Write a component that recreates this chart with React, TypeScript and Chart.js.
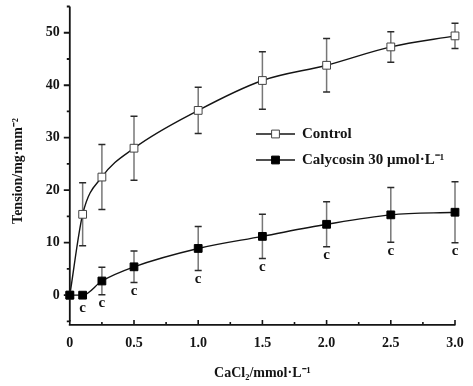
import React, { useEffect, useRef } from 'react';
import { Chart, registerables } from 'chart.js';

Chart.register(...registerables);

// ---- data ----
const concentrations = [0, 0.1, 0.25, 0.5, 1.0, 1.5, 2.0, 2.5, 3.0];
const controlMean = [0, 15.4, 22.5, 28.0, 35.2, 40.9, 43.8, 47.3, 49.4];
const controlSD = [0, 6.0, 6.2, 6.1, 4.4, 5.5, 5.1, 2.9, 2.4];
const calycosinMean = [0, 0, 2.7, 5.4, 8.9, 11.2, 13.5, 15.3, 15.8];
const calycosinSD = [0, 0, 2.6, 3.0, 4.2, 4.2, 4.3, 5.2, 5.8];
const calycosinMarks = ['', 'c', 'c', 'c', 'c', 'c', 'c', 'c', 'c'];

const seriesLabels = ['Control', 'Calycosin 30 μmol·L⁻¹'];
const xMajorTicks = [0, 0.5, 1.0, 1.5, 2.0, 2.5, 3.0];
const xMinorTicks = [0.25, 0.75, 1.25, 1.75, 2.25, 2.75];
const yMajorTicks = [0, 10, 20, 30, 40, 50];
const yMinorTicks = [-5, 5, 15, 25, 35, 45, 55];
const xTitle = 'CaCl₂/mmol·L⁻¹';
const yTitle = 'Tension/mg·mm⁻²    ';

const FONT = '"Liberation Serif", "Times New Roman", serif';
const INK = '#141414';

const decorPlugin = {
  id: 'decor',
  beforeDatasetsDraw(chart: any) {
    const ctx = chart.ctx;
    const xs = chart.scales.x;
    const ys = chart.scales.y;
    ctx.save();
    // y axis
    const ax = xs.getPixelForValue(xs.min);
    const yTop = ys.getPixelForValue(ys.max);
    const yBot = ys.getPixelForValue(ys.min);
    ctx.strokeStyle = INK;
    ctx.lineWidth = 1.8;
    ctx.beginPath();
    ctx.moveTo(ax, yTop);
    ctx.lineTo(ax, yBot);
    yMajorTicks.forEach((v) => {
      const p = ys.getPixelForValue(v);
      ctx.moveTo(ax - 6, p);
      ctx.lineTo(ax, p);
    });
    yMinorTicks.forEach((v) => {
      const p = ys.getPixelForValue(v);
      ctx.moveTo(ax - 3, p);
      ctx.lineTo(ax, p);
    });
    ctx.stroke();
    // x axis (offset below the y axis)
    const axY = yBot + 3.5;
    ctx.lineWidth = 1.6;
    ctx.beginPath();
    ctx.moveTo(xs.getPixelForValue(xs.min) - 1, axY);
    ctx.lineTo(xs.getPixelForValue(xs.max) + 0.5, axY);
    xMajorTicks.forEach((v) => {
      const p = xs.getPixelForValue(v);
      ctx.moveTo(p, axY);
      ctx.lineTo(p, axY - 5);
    });
    xMinorTicks.forEach((v) => {
      const p = xs.getPixelForValue(v);
      ctx.moveTo(p, axY);
      ctx.lineTo(p, axY - 3);
    });
    ctx.stroke();

    // error bars
    chart.data.datasets.forEach((ds: any) => {
      const errs: number[] = ds.errors || [];
      ds.data.forEach((pt: any, i: number) => {
        const e = errs[i];
        if (!e) return;
        const px = xs.getPixelForValue(pt.x);
        const pTop = ys.getPixelForValue(pt.y + e);
        const pBot = ys.getPixelForValue(pt.y - e);
        ctx.strokeStyle = '#777';
        ctx.lineWidth = 1.5;
        ctx.beginPath();
        ctx.moveTo(px, pTop);
        ctx.lineTo(px, pBot);
        ctx.stroke();
        ctx.strokeStyle = '#2a2a2a';
        ctx.beginPath();
        ctx.moveTo(px - 3.5, pTop);
        ctx.lineTo(px + 3.5, pTop);
        ctx.moveTo(px - 3.5, pBot);
        ctx.lineTo(px + 3.5, pBot);
        ctx.stroke();
      });
    });
    ctx.restore();
  },
  afterDatasetsDraw(chart: any) {
    const ctx = chart.ctx;
    const xs = chart.scales.x;
    const ys = chart.scales.y;
    ctx.save();
    // significance marks
    ctx.fillStyle = INK;
    ctx.font = `bold 15px ${FONT}`;
    ctx.textAlign = 'center';
    ctx.textBaseline = 'middle';
    chart.data.datasets.forEach((ds: any) => {
      const marks: string[] = ds.marks || [];
      const errs: number[] = ds.errors || [];
      ds.data.forEach((pt: any, i: number) => {
        if (!marks[i]) return;
        const px = xs.getPixelForValue(pt.x);
        const below = Math.max(ys.getPixelForValue(pt.y - (errs[i] || 0)), ys.getPixelForValue(pt.y) + 4);
        ctx.fillText(marks[i], px, below + 8.5);
      });
    });

    // legend
    const lx = 256;
    let ly = 134;
    chart.data.datasets.forEach((ds: any) => {
      ctx.strokeStyle = INK;
      ctx.lineWidth = 1.4;
      ctx.beginPath();
      ctx.moveTo(lx, ly);
      ctx.lineTo(lx + 39, ly);
      ctx.stroke();
      ctx.fillStyle = ds.pointBackgroundColor;
      ctx.strokeStyle = ds.pointBorderColor;
      ctx.lineWidth = 1;
      ctx.beginPath();
      ctx.rect(lx + 19.5 - 3.9, ly - 3.9, 7.8, 7.8);
      ctx.fill();
      ctx.stroke();
      ctx.fillStyle = INK;
      ctx.font = `bold 15px ${FONT}`;
      ctx.textAlign = 'left';
      ctx.textBaseline = 'middle';
      ctx.fillText(ds.label, lx + 46, ly + 0.5);
      ly += 26;
    });
    ctx.restore();
  },
};

export default function App() {
  const ref = useRef<HTMLCanvasElement | null>(null);
  useEffect(() => {
    if (!ref.current) return;
    const mk = (ys: number[]) => concentrations.map((x, i) => ({ x, y: ys[i] }));
    const chart = new Chart(ref.current, {
      type: 'scatter',
      data: {
        datasets: [
          {
            label: seriesLabels[0],
            data: mk(controlMean),
            errors: controlSD,
            showLine: true,
            borderColor: INK,
            borderWidth: 1.4,
            cubicInterpolationMode: 'monotone',
            pointStyle: 'rect',
            pointRadius: 5.5,
            pointBackgroundColor: '#ffffff',
            pointBorderColor: '#444',
            pointBorderWidth: 1,
            clip: false,
            order: 1,
          } as any,
          {
            label: seriesLabels[1],
            data: mk(calycosinMean),
            errors: calycosinSD,
            marks: calycosinMarks,
            showLine: true,
            borderColor: INK,
            borderWidth: 1.4,
            cubicInterpolationMode: 'monotone',
            pointStyle: 'rect',
            pointRadius: 5.5,
            pointBackgroundColor: '#000000',
            pointBorderColor: '#000000',
            pointBorderWidth: 1,
            clip: false,
            order: 0,
          } as any,
        ],
      },
      options: {
        animation: false,
        responsive: false,
        devicePixelRatio: 1,
        layout: { padding: { left: 6, top: 4.4, right: 18, bottom: 0 } },
        plugins: { legend: { display: false }, tooltip: { enabled: false } },
        scales: {
          x: {
            type: 'linear',
            min: 0,
            max: 3,
            grid: { display: false, drawTicks: true, tickLength: 14 },
            border: { display: false },
            afterBuildTicks: (s: any) => {
              s.ticks = xMajorTicks.map((v) => ({ value: v }));
            },
            ticks: {
              color: INK,
              padding: 0,
              maxRotation: 0,
              font: { family: FONT, size: 14, weight: 'bold' },
              callback: (v: any) => (Number(v) === 0 ? '0' : Number(v).toFixed(1)),
            },
            title: {
              display: true,
              text: xTitle,
              color: INK,
              font: { family: FONT, size: 14, weight: 'bold' },
              padding: { top: 13, bottom: 4 },
            },
          },
          y: {
            type: 'linear',
            min: -5,
            max: 55,
            grid: { display: false, drawTicks: true, tickLength: 10 },
            border: { display: false },
            afterBuildTicks: (s: any) => {
              s.ticks = yMajorTicks.map((v) => ({ value: v }));
            },
            ticks: {
              color: INK,
              padding: 0,
              font: { family: FONT, size: 14, weight: 'bold', lineHeight: 0.5 },
            },
            title: {
              display: true,
              text: yTitle,
              color: INK,
              font: { family: FONT, size: 14, weight: 'bold' },
              padding: { top: 4, bottom: 19 },
            },
          },
        },
      } as any,
      plugins: [decorPlugin],
    });
    return () => chart.destroy();
  }, []);
  return (
    <div style={{ position: 'absolute', left: 0, top: 0, width: 473, height: 386, background: '#fff' }}>
      <canvas ref={ref} width={473} height={386} />
    </div>
  );
}
